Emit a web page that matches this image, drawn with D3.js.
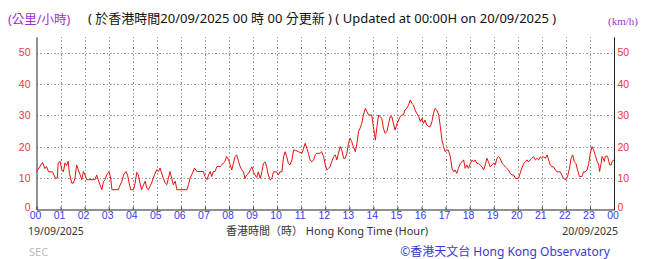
<!DOCTYPE html>
<html><head><meta charset="utf-8">
<script src="https://cdn.jsdelivr.net/npm/d3@7"></script>
<style>
html,body{margin:0;padding:0;background:#fff;}
svg{display:block;}
</style></head>
<body>
<svg id="chart" width="655" height="259"></svg>
<script>
// Minutes after 00:00 on 19/09/2025
const minutes = [0,15,21,25,30,40,47,52,54,59,63,67,71,75,79,82,88,92,96,100,104,109,113,117,121,125,146,150,154,158,163,167,171,175,181,185,188,204,207,213,217,223,227,231,235,242,246,250,254,258,262,267,271,275,279,283,287,291,296,300,304,308,312,316,321,325,329,333,337,341,346,350,375,379,383,389,394,400,416,420,425,429,433,437,441,445,450,458,462,466,470,474,479,483,
487,491,495,499,504,508,512,516,520,524,529,533,537,541,545,549,553,558,562,566,570,574,578,583,587,591,599,603,607,612,616,620,624,628,632,637,641,645,653,662,666,670,674,678,682,687,691,695,699,707,711,716,720,724,728,732,736,741,745,749,753,757,761,766,770,774,778,782,786,790,795,799,803,807,811,815,820,824,828,836,840,845,849,853,861,865,869,874,878,882,886,890,894,899,903,907,911,915,919,923,928,932,936,940,944,948,953,957,
961,965,969,973,978,982,986,990,994,998,1003,1007,1011,1015,1019,1023,1027,1032,1036,1040,1044,1048,1052,1057,1061,1065,1069,1073,1077,1082,1086,1090,1094,1098,1102,1106,1111,1115,1119,1123,1127,1131,1136,1140,1144,1148,1152,1156,1161,1165,1169,1173,1177,1181,1186,1190,1194,1202,1206,1210,1215,1219,1223,1227,1231,1235,1240,1244,1248,1252,1256,1260,1265,1269,1273,1277,1281,1285,1289,1294,1298,1306,1310,1314,1320,1324,1329,1333,1337,1341,1345,1349,1354,1360,1364,1368,1373,1377,1381,1385,
1389,1393,1398,1402,1404,1408,1410,1413,1416,1418,1421,1424,1427,1429,1433,1435,1440];
// Wind speed (km/h)
const speeds = [12,15,13,13.7,12,12,10,10,14.8,15.3,12.7,12,14.8,14,15.3,11.5,8.4,8.4,10,14.2,12.7,11,9.5,12.1,11,9.5,9.5,11,9.5,7.9,6.3,8.9,9.5,11,12.1,10,6.3,6.3,7.4,9,11,12.1,11,8.4,6.3,6.3,8.4,11.8,11,8.4,6.3,7.9,9,6.8,6.3,7.4,8.4,10,11.6,12.7,12.1,13.2,11.6,10,8.4,7.9,10,12.1,10,7.9,9,6.3,6.3,7.9,10,11.6,13.2,12.1,12.1,10.5,9.5,11,12.1,10.5,12.1,12.1,13.7,13.7,14.2,14.8,15.3,16.9,15.8,14.2,
12.6,14.8,16.8,17.4,15.2,13.6,12.6,12,9.9,11,11.5,12.6,13.6,12,11,10.2,12,9.9,12,14.7,15.2,13.6,11,9.4,9.9,12,12,11,12,12,16.8,18.4,16.8,14.7,14.2,15.8,18.9,18.9,18.4,17.9,19.5,21.1,19.5,17.9,15.8,15.2,15.8,17.4,17.9,17.9,18.4,16.8,14.2,12.6,13.1,13.6,15.2,16.8,17.4,15.8,17.9,20,19,16.3,16.3,17.9,21.1,22.7,21.6,20,18.4,21.1,24.8,25.9,27.4,30.1,32.2,31.2,30.1,30.1,26.4,22.1,26.4,30.1,29,25.9,24.3,24.8,27.4,29.6,29.6,27.4,25.3,27.4,28.5,29.6,30.1,30.1,31.7,32.2,33.3,34.9,33.8,33.3,31.7,30.6,29.6,28,
29,27.4,28.5,26.9,26.4,26.4,28,30.6,32.2,31.7,30.1,26.4,22.1,20,18.4,18.9,18.9,16.8,13.1,12,12.6,11.5,13.1,14.7,15.2,15.8,13.1,14.2,13.1,14.7,15.8,15.2,15.8,14.7,14.7,14.2,13.6,12.6,14.2,16.3,15.2,13.6,14.2,14.7,14.2,16.3,16.8,16.3,14.7,14.2,13.6,13.1,12.6,11.5,11,11,9.9,9.9,11.5,13.1,14.7,15.2,15.8,15.2,15.8,16.3,16.8,15.8,16.3,15.8,16.8,16.3,16.8,16.3,17.4,15.8,14.2,13.6,13.6,12.6,12,12,11,9.9,9.4,10.4,13.1,16.3,17.4,15.2,14.7,12.6,10.5,10.5,12,12,12.6,14.7,17.9,20,
19,17.4,15.3,14.2,12.1,14.7,16.9,16.3,15.3,16.9,17,16.9,15.3,14.2,14.2,15.3,15.8];

const hourTicks = d3.range(0, 25);
const hourLabels = ["00","01","02","03","04","05","06","07","08","09","10","11","12","13","14","15","16","17","18","19","20","21","22","23","00"];
const speedTicks = [0,10,20,30,40,50];
const titleText = "( 於香港時間20/09/2025 00 時 00 分更新 ) ( Updated at 00:00H on 20/09/2025 )";
const unitZh = "(公里/小時)";
const unitEn = "(km/h)";
const startDate = "19/09/2025";
const endDate = "20/09/2025";
const axisTitle = "香港時間（時） Hong Kong Time (Hour)";
const credit = "©香港天文台 Hong Kong Observatory";
const stationCode = "SEC";

const L = 36.5, R = 614, T = 36.8, B = 209.5;
const svg = d3.select("#chart");
const x = d3.scaleLinear().domain([0, 1440]).range([L, R]);
const y = d3.scaleLinear().domain([0, 55]).range([B, T]);

const numFont = "'Liberation Sans',Arial,sans-serif";
const txtFont = "'Noto Sans','Noto Sans CJK TC',sans-serif";

// grid
const grid = svg.append("g").attr("stroke", "#9a9a9a").attr("stroke-width", 1).attr("stroke-dasharray", "1.5,2").attr("shape-rendering","crispEdges");
grid.selectAll("line.h").data(speedTicks.filter(d => d > 0)).join("line")
  .attr("x1", L).attr("x2", R).attr("y1", d => Math.round(y(d))+0.5).attr("y2", d => Math.round(y(d))+0.5);
grid.selectAll("line.v").data(hourTicks.filter(h => h > 0 && h < 24)).join("line")
  .attr("y1", T).attr("y2", B).attr("x1", d => Math.round(x(d*60))+0.5).attr("x2", d => Math.round(x(d*60))+0.5);

// bottom axis
const xAxis = d3.axisBottom(x).tickValues(hourTicks.map(h => h*60))
  .tickFormat((d, i) => hourLabels[i]).tickSize(-3).tickSizeOuter(0).tickPadding(2.5);
const gx = svg.append("g").attr("transform", `translate(0,${B})`).call(xAxis);
gx.select(".domain").attr("stroke", "#222");
gx.selectAll(".tick line").attr("stroke", "#444");
gx.selectAll("text").attr("fill", "#3b3bf0").attr("font-family", numFont).attr("font-size", 10.5).attr("dx", -1.5);

// left / right axes
const yl = svg.append("g").attr("transform", `translate(${L},0)`)
  .call(d3.axisLeft(y).tickValues(speedTicks).tickSize(0).tickPadding(6));
const yr = svg.append("g").attr("transform", `translate(${R},0)`)
  .call(d3.axisRight(y).tickValues(speedTicks).tickSize(0).tickPadding(3.5));
[yl, yr].forEach(g => {
  g.select(".domain").attr("stroke", "#222");
  g.selectAll("text").attr("fill", "#f03535").attr("font-family", numFont).attr("font-size", 10.5);
});
yl.selectAll(".tick").filter(d => d === 0).select("text").attr("dy", "0.1em");
yr.selectAll(".tick").filter(d => d === 0).select("text").attr("dy", "0.1em");

// line
const pts = minutes.map((m, i) => [m, speeds[i]]);
svg.append("path").datum(pts)
  .attr("fill", "none").attr("stroke", "#e81010").attr("stroke-width", 1)
  .attr("d", d3.line().x(d => x(d[0])).y(d => y(d[1])));

// texts
svg.append("text").attr("x", 8).attr("y", 24).attr("fill", "#9a30d8")
  .attr("font-family", txtFont).attr("font-size", 12.5).text(unitZh);
svg.append("text").attr("x", 88).attr("y", 23).attr("fill", "#111")
  .attr("font-family", txtFont).attr("font-size", 13).text(titleText);
svg.append("text").attr("x", 608).attr("y", 25).attr("fill", "#9a30d8")
  .attr("font-family", "'Liberation Serif',serif").attr("font-size", 11).text(unitEn);

svg.append("text").attr("x", 28).attr("y", 234.5).attr("fill", "#333")
  .attr("font-family", txtFont).attr("font-size", 10.5).text(startDate);
svg.append("text").attr("x", 618).attr("y", 234.5).attr("text-anchor", "end").attr("fill", "#333")
  .attr("font-family", txtFont).attr("font-size", 10.5).text(endDate);
svg.append("text").attr("x", 327).attr("y", 234.5).attr("text-anchor", "middle").attr("fill", "#333")
  .attr("font-family", txtFont).attr("font-size", 11).text(axisTitle);
svg.append("text").attr("x", 29).attr("y", 256).attr("fill", "#bbb")
  .attr("font-family", txtFont).attr("font-size", 11).text(stationCode);
svg.append("text").attr("x", 505).attr("y", 255.5).attr("text-anchor", "middle").attr("fill", "#3a3ad0")
  .attr("font-family", txtFont).attr("font-size", 12).text(credit);
</script>
</body></html>
